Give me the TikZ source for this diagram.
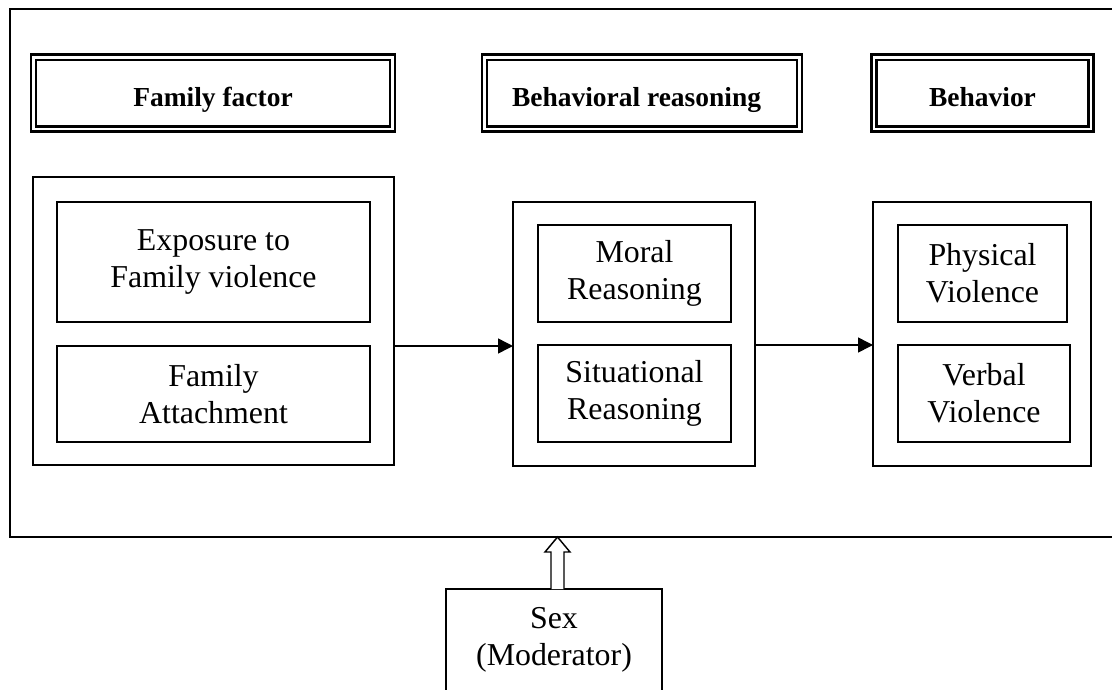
\documentclass[tikz,border=0pt]{standalone}
\usepackage{fontspec}
\setmainfont{Liberation Serif}
\usetikzlibrary{arrows.meta,calc}

\tikzset{
  frame/.style={draw, line width=1.2pt, inner sep=0pt, outer sep=0pt},
  head/.style={draw, line width=1.6pt, inner sep=0pt, outer sep=0pt,
    minimum height=57.75pt, text height=19.5pt, text depth=0pt,
    font=\fontsize{20.6}{24}\selectfont\bfseries},
  headinner/.style={line width=1.9pt},
  group/.style={draw, line width=1.1pt, inner sep=0pt, outer sep=0pt},
  box/.style={draw, line width=1.1pt, inner sep=0pt, outer sep=0pt, align=center,
    font=\fontsize{23.9}{27.75}\selectfont},
  label/.style={inner xsep=0pt, inner ysep=13.5pt, outer sep=0pt, align=center,
    font=\fontsize{23.9}{27.75}\selectfont},
  flow/.style={line width=1.1pt, -{Triangle[length=11.25pt,width=11.25pt]}},
  hollow/.style={line width=1.1pt, fill=white, line join=miter},
}

\begin{document}
\begin{tikzpicture}[x=0.75pt,y=-0.75pt]
\useasboundingbox (0,0) rectangle (1112,689);
\clip (0,0) rectangle (1112,689);
\fill[white] (0,0) rectangle (1112,689);

% surrounding frame (open on the right)
\node[frame, minimum width=840pt, minimum height=396pt] (frame) at (570,273) {};

% column headings with double borders
\node[head, minimum width=273pt] (hfam)  at (213,93)   {Family factor};
\node[head, minimum width=240pt] (hreas) at (642,93)   {Behavioral reasoning\kern8.25pt};
\node[head, minimum width=166.5pt] (hbeh) at (982.5,93) {Behavior};
\foreach \h in {hfam,hreas,hbeh}
  \draw[headinner] ($(\h.north west)+(5,5.5)$) rectangle ($(\h.south east)+(-5,-5)$);

% family factor group
\node[group, minimum width=270.75pt, minimum height=216pt] (g1) at (213.5,321) {};
\node[box, minimum width=234.75pt, minimum height=90pt] (f1) at (213.5,262) {Exposure to\\Family violence};
\node[box, minimum width=234.75pt, minimum height=72pt] (f2) at (213.5,394) {Family\\Attachment};

% behavioral reasoning group
\node[group, minimum width=181.5pt, minimum height=198pt] (g2) at (634,334) {};
\node[box, minimum width=144.75pt, minimum height=72.75pt] (m1) at (634.5,273.5) {Moral\\Reasoning};
\node[box, minimum width=144.75pt, minimum height=72.75pt] (m2) at (634.5,393.5) {Situational\\Reasoning};

% behavior group
\node[group, minimum width=163.5pt, minimum height=198pt] (g3) at (982,334) {};
\node[box, minimum width=126.75pt, minimum height=72.75pt] (b1) at (982.5,273.5) {Physical\\Violence};
\node[box, minimum width=129pt, minimum height=72.75pt] (b2) at (984,393.5) {Verbal\\Violence};

% causal arrows
\draw[flow] (g1.east |- f2.north) -- (g2.west |- f2.north);
\draw[flow] (g2.east |- m2.north) -- (g3.west |- m2.north);

% moderator box (runs off the bottom edge)
\node[label, anchor=north, minimum width=162pt] (sex) at (554,589) {Sex\\(Moderator)};
\draw[line width=1.1pt] ($(sex.south west)+(0,40)$) -- (sex.north west)
  -- (sex.north east) -- ($(sex.south east)+(0,40)$);

% hollow block arrow from the moderator to the frame
\coordinate (modtop) at ($(sex.north)+(3.5,0)$);
\coordinate (modtip) at (modtop |- frame.south);
\draw[hollow] ($(modtop)+(-6.5,0)$) -- ($(modtip)+(-6.5,15)$) -- ($(modtip)+(-12.5,15)$)
  -- (modtip) -- ($(modtip)+(12.5,15)$) -- ($(modtip)+(6.5,15)$)
  -- ($(modtop)+(6.5,0)$);
\end{tikzpicture}
\end{document}
